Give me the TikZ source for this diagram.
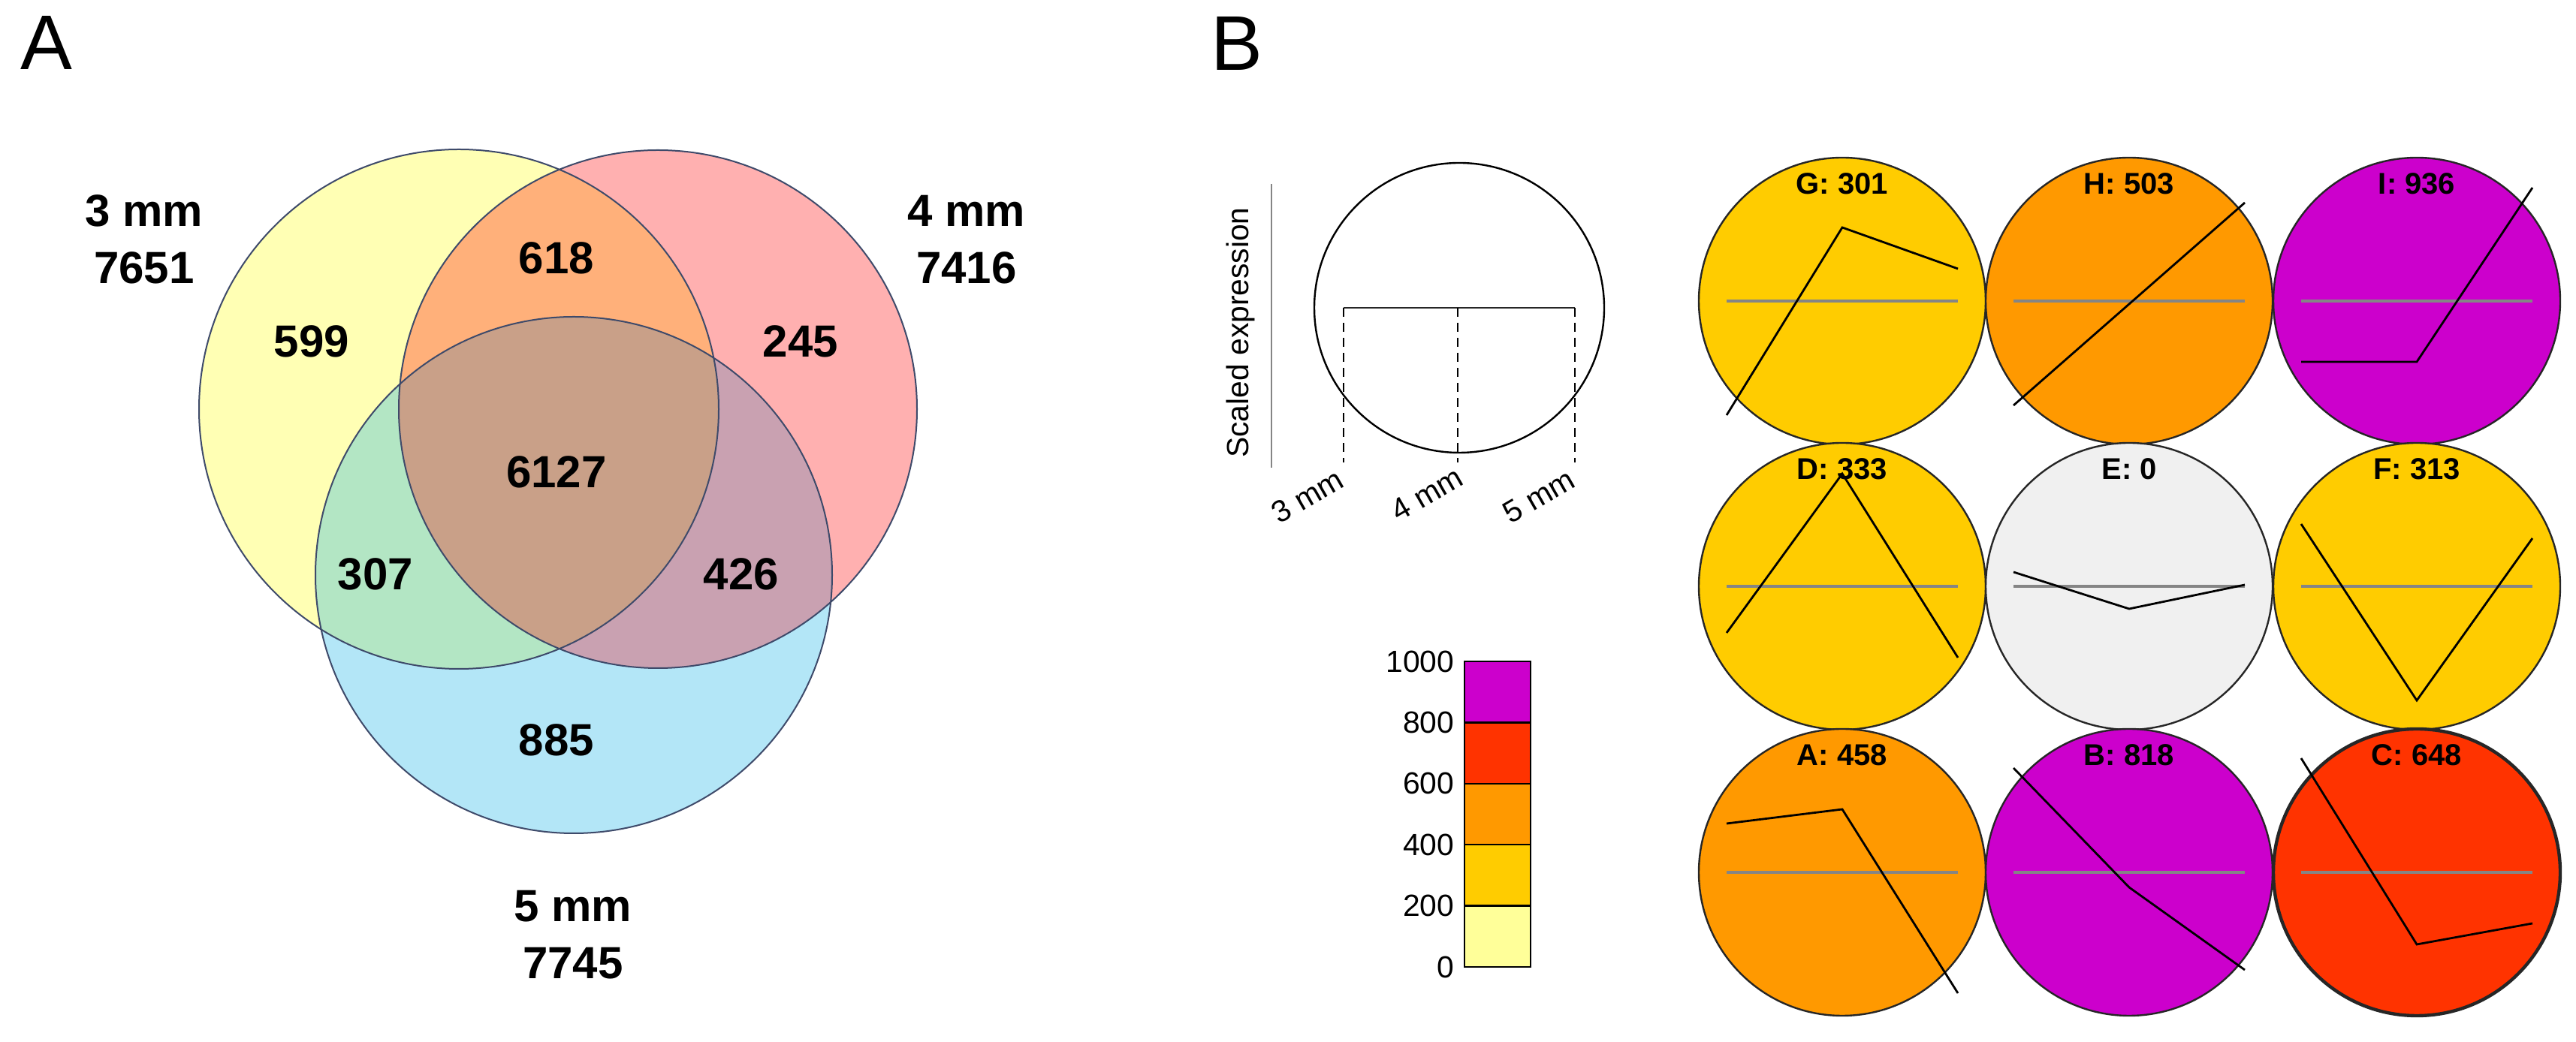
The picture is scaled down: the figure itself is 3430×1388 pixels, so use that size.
\documentclass[tikz,border=0pt]{standalone}
\usepackage{fontspec}
\setmainfont{Liberation Sans}
\usetikzlibrary{positioning,calc}
\definecolor{venyel}{HTML}{FFFFB4}
\definecolor{venred}{HTML}{FFB0B0}
\definecolor{venblue}{HTML}{B3E6F7}
\definecolor{venorange}{HTML}{FFB07A}
\definecolor{vengreen}{HTML}{B3E6C4}
\definecolor{venmauve}{HTML}{C9A1B1}
\definecolor{venbrown}{HTML}{C9A088}
\definecolor{venline}{HTML}{3E4A6A}
\definecolor{scale0}{HTML}{FFFF99}
\definecolor{scale1}{HTML}{FFCC00}
\definecolor{scale2}{HTML}{FF9900}
\definecolor{scale3}{HTML}{FF3300}
\definecolor{scale4}{HTML}{CC00CC}
\definecolor{scalenil}{HTML}{F0F0F0}
\definecolor{midgray}{HTML}{858585}

\begin{document}
\begin{tikzpicture}[x=0.25pt,y=-0.25pt]
                    \tikzstyle{every node}=[inner sep=0]
                    \tikzstyle{panel}=[font=\fontsize{25.8}{30}\selectfont]
                    \tikzstyle{count}=[font=\fontsize{15}{19}\selectfont\bfseries,align=center]
                    \tikzstyle{small}=[font=\fontsize{10.2}{12}\selectfont]
                    \tikzstyle{celltag}=[font=\fontsize{10}{12}\selectfont\bfseries]
                    \tikzstyle{cell}=[circle,draw=black!85,minimum size=95.5pt]
                    \tikzstyle{profile}=[line width=0.7pt]
                    \tikzstyle{midline}=[draw=midgray,line width=0.9pt]
                    \tikzstyle{drop}=[dash pattern=on 3pt off 2pt,line width=0.5pt]

                    \useasboundingbox (0,0) rectangle (3430,1388);

                    {
                        \def\yelc{(611,545) circle (346)}
                        \def\redc{(876,545) circle (345)}
                        \def\bluc{(764,766) circle (344)}
                        \fill[venyel] \yelc;
                        \fill[venred] \redc;
                        \fill[venblue] \bluc;
                        \begin{scope}
                            \clip \redc;
                            \fill[venmauve] \bluc;
                        \end{scope}
                        \begin{scope}
                            \clip \yelc;
                            \fill[venorange] \redc;
                            \fill[vengreen] \bluc;
                            \clip \redc;
                            \fill[venbrown] \bluc;
                        \end{scope}
                        \draw[venline,line width=0.5pt] \yelc \redc \bluc;

                        \node[panel] (panelA) at (62,57) {A};
                        \node[count] (set3) at (192,319) {3 mm\\7651};
                        \node[count] (set4) at (1287,319) {4 mm\\7416};
                        \node[count] (set5) at (763,1245) {5 mm\\7745};

                        \node[count] (only3) at (415,455) {599};
                        \node[count] (only4) at (1066,455) {245};
                        \node[count] (only5) at (741,986) {885};
                        \node[count] (both34) at (741,344) {618};
                        \node[count] (both35) at (500,765) {307};
                        \node[count] (both45) at (987,765) {426};
                        \node[count] (all) at (741,629) {6127};
                    }

                    {
                        \node[panel] (panelB) at (1647,58) {B};

                        \node[circle,draw,minimum size=96.5pt,line width=0.6pt] (sketch) at (1943,410) {};
                        \coordinate (top3) at (1789,410);
                        \coordinate (top4) at (1941,410);
                        \coordinate (top5) at (2097,410);
                        \coordinate (bot3) at (1789,616);
                        \coordinate (bot4) at (1941,616);
                        \coordinate (bot5) at (2097,616);
                        \draw[line width=0.5pt,black!85] (top3) -- (top5);
                        \draw[drop] (top3) -- (bot3);
                        \draw[drop] (top4) -- (bot4);
                        \draw[drop] (top5) -- (bot5);
                        \node[small,rotate=30] (mm3) at (1741,661) {3 mm};
                        \node[small,rotate=30] (mm4) at (1900,658) {4 mm};
                        \node[small,rotate=30] (mm5) at (2049,661) {5 mm};

                        \coordinate (axtop) at (1693,245);
                        \coordinate (axbot) at (1693,623);
                        \draw[midgray,line width=0.6pt] (axtop) -- (axbot);
                        \node[small,rotate=90] (ylabel) at (1652,443) {Scaled expression};

                        \foreach \i/\v in {0/0,1/200,2/400,3/600,4/800} {
                            \draw[fill=scale\i,line width=0.6pt] (1950,{1288-81.4*\i}) rectangle (2038,{1288-81.4*(\i+1)});
                            \node[small,anchor=east] (tick\i) at (1937,{1288-81.4*\i}) {\v};
                        }
                        \node[small,anchor=east] (tick5) at (1937,881) {1000};

                        \foreach \n/\cx/\cy/\col/\lw in {G/2453/401/scale1/0.6, H/2835/401/scale2/0.6, I/3218/401/scale4/0.6,
                                                        D/2453/781/scale1/0.6, E/2835/781/scalenil/0.6, F/3218/781/scale1/0.6,
                                                        A/2453/1162/scale2/0.6, B/2835/1162/scale4/0.6, C/3218/1162/scale3/1.1}
                            \node[cell,fill=\col,line width=\lw pt] (cell\n) at (\cx,\cy) {};

                        \foreach \n/\lab/\ya/\yb/\yc in {G/{G: 301}/152/-98/-43, H/{H: 503}/139/4/-131, I/{I: 936}/81/81/-151,
                                                        D/{D: 333}/62/-150/95, E/{E: 0}/-19/30/-2, F/{F: 313}/-83/152/-64,
                                                        A/{A: 458}/-65/-84/161, B/{B: 818}/-139/20/130, C/{C: 648}/-152/96/68} {
                            \draw[midline] ($(cell\n.center)+(-154,0)$) -- ($(cell\n.center)+(154,0)$);
                            \draw[profile] ($(cell\n.center)+(-154,\ya)$) -- ($(cell\n.center)+(0,\yb)$) -- ($(cell\n.center)+(154,\yc)$);
                            \node[celltag] (lab\n) at ($(cell\n.center)+(0,-156)$) {\lab};
                        }
                    }
\end{tikzpicture}
\end{document}
